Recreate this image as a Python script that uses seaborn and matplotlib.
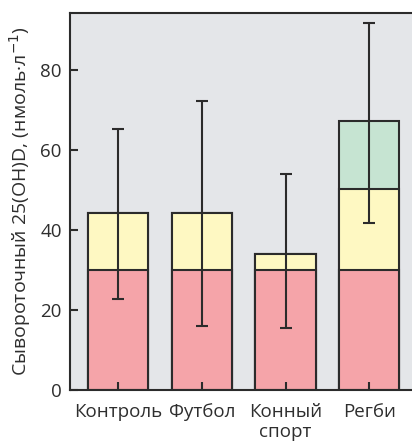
import matplotlib
matplotlib.use('Agg')
import matplotlib.pyplot as plt
import numpy as np
import pandas as pd
import seaborn as sns

#--data--
groups      = ['Контроль', 'Футбол', 'Конный\nспорт', 'Регби']
low_part    = [30, 30, 30, 30]          # red, deficiency
mid_part    = [14.2, 14.2, 4.0, 20.3]   # yellow
high_part   = [0, 0, 0, 16.9]           # green
err_lower   = [22.7, 16.1, 15.4, 41.8]
err_upper   = [65.3, 72.3, 54.1, 91.8]

sns.set_style('ticks')
plt.rcParams.update({'font.family': ['Open Sans', 'DejaVu Sans'],
                     'font.size': 13,
                     'axes.linewidth': 1.5,
                     'axes.axisbelow': False,
                     'xtick.direction': 'in',
                     'ytick.direction': 'in',
                     'xtick.major.size': 6,
                     'ytick.major.size': 6,
                     'xtick.major.width': 1.5,
                     'ytick.major.width': 1.5})

df = pd.DataFrame({'group': groups,
                   'red': low_part,
                   'yellow': np.add(low_part, mid_part),
                   'green': np.add(np.add(low_part, mid_part), high_part)})

fig = plt.figure(figsize=(4.12, 4.44), dpi=100)
ax = fig.add_axes([0.17, 0.1216, 0.83, 0.8491])
ax.set_facecolor('#e4e6e9')

edge = '#2b2b2b'
for col, colour in [('green', '#c6e4d2'), ('yellow', '#fef8c2'), ('red', '#f5a4a9')]:
    sns.barplot(data=df, x='group', y=col, color=colour, width=0.72,
                edgecolor=edge, linewidth=1.5, saturation=1, ax=ax)

tot = df['green'].values
yerr = [tot - np.array(err_lower), np.array(err_upper) - tot]
ax.errorbar(np.arange(len(groups)), tot, yerr=yerr, fmt='none', ecolor=edge,
            elinewidth=1.5, capsize=4.5, capthick=1.5)

ax.set_axisbelow(False)
ax.set_xlim(-0.575, 3.51)
ax.set_ylim(0, 94.25)
ax.set_yticks([0, 20, 40, 60, 80])
ax.tick_params(axis='both', which='major', left=True, bottom=True,
               colors=edge, labelcolor='#2e2e2e', labelsize=13.5)
ax.tick_params(axis='y', pad=6)
ax.tick_params(axis='x', pad=9)
ax.set_xlabel('')
ax.set_ylabel('Сывороточный 25(OH)D, (нмоль·л$^{-1}$)', fontsize=14,
              color='#2e2e2e', labelpad=5)
ax.spines['right'].set_visible(False)
for s in ['left', 'bottom', 'top']:
    ax.spines[s].set_color(edge)

fig.savefig('out.png', dpi=100)
